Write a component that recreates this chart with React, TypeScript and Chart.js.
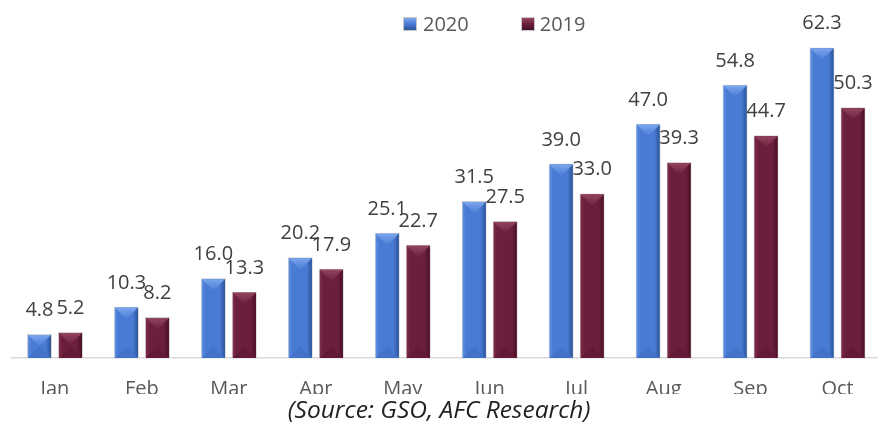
import React, { useEffect, useRef } from 'react';
import { Chart, registerables } from 'chart.js';

Chart.register(...registerables);

const months = ['Jan', 'Feb', 'Mar', 'Apr', 'May', 'Jun', 'Jul', 'Aug', 'Sep', 'Oct'];
const seriesNames = ['2020', '2019'];
const values2020 = [4.8, 10.3, 16.0, 20.2, 25.1, 31.5, 39.0, 47.0, 54.8, 62.3];
const values2019 = [5.2, 8.2, 13.3, 17.9, 22.7, 27.5, 33.0, 39.3, 44.7, 50.3];
const sourceText = '(Source: GSO, AFC Research)';

const palettes = [
  { base: '#4a7bd4', left: '#6090e2', right: '#2b5498', top: '#7ba6ee', bottom: '#4373c9' },
  { base: '#6c1f3d', left: '#7e2c4d', right: '#4a1028', top: '#93445f', bottom: '#631a37' },
];

const FONT = '"Open Sans", "DejaVu Sans", sans-serif';

const bevelPlugin = {
  id: 'bevelAndLabels',
  afterDatasetsDraw(chart: any) {
    const ctx = chart.ctx as CanvasRenderingContext2D;
    ctx.save();
    chart.data.datasets.forEach((ds: any, i: number) => {
      const meta = chart.getDatasetMeta(i);
      const pal = palettes[i];
      meta.data.forEach((bar: any, j: number) => {
        const { x, y, base, width } = bar.getProps(['x', 'y', 'base', 'width'], true);
        const l = x - width / 2 + 1;
        const r = x + width / 2 - 1;
        const t = y + 1;
        const b = base;
        const w = r - l;
        const h = b - t;
        if (h <= 0) return;
        const g = ctx.createLinearGradient(l, 0, r, 0);
        g.addColorStop(0, pal.left);
        g.addColorStop(0.14, pal.base);
        g.addColorStop(0.78, pal.base);
        g.addColorStop(1, pal.right);
        ctx.fillStyle = g;
        ctx.fillRect(l, t, w, h);
        const d = Math.min(w / 2, h / 2);
        // top bevel
        const tg = ctx.createLinearGradient(0, t, 0, t + d);
        tg.addColorStop(0, pal.top);
        tg.addColorStop(1, pal.base);
        ctx.beginPath();
        ctx.moveTo(l, t);
        ctx.lineTo(r, t);
        ctx.lineTo(x, t + d);
        ctx.closePath();
        ctx.fillStyle = tg;
        ctx.fill();
        // bottom bevel
        ctx.beginPath();
        ctx.moveTo(l, b);
        ctx.lineTo(r, b);
        ctx.lineTo(x, b - d);
        ctx.closePath();
        ctx.fillStyle = pal.bottom;
        ctx.fill();
        // value label
        const v = ds.data[j] as number;
        ctx.fillStyle = '#404040';
        ctx.font = `20px ${FONT}`;
        ctx.textAlign = 'center';
        ctx.textBaseline = 'alphabetic';
        ctx.fillText(v.toFixed(1), x, y - 18);
      });
    });
    ctx.restore();
  },
};

function LegendBox({ pal }: { pal: any }) {
  return (
    <span
      style={{
        display: 'inline-block',
        width: 14,
        height: 14,
        verticalAlign: 'baseline',
        boxSizing: 'border-box',
        border: '1px solid #c8c8c8',
        background: `linear-gradient(to bottom, ${pal.top} 0%, ${pal.base} 50%, ${pal.right} 100%)`,
      }}
    />
  );
}

export default function App() {
  const canvasRef = useRef<HTMLCanvasElement | null>(null);

  useEffect(() => {
    document.body.style.margin = '0';
    const canvas = canvasRef.current;
    if (!canvas) return;
    const chart = new Chart(canvas, {
      type: 'bar',
      data: {
        labels: months,
        datasets: [
          {
            label: seriesNames[0],
            data: values2020,
            backgroundColor: palettes[0].base,
            borderColor: 'rgba(205,205,205,0.9)',
            borderWidth: 1,
            barPercentage: 0.806,
            categoryPercentage: 0.713,
          },
          {
            label: seriesNames[1],
            data: values2019,
            backgroundColor: palettes[1].base,
            borderColor: 'rgba(205,205,205,0.9)',
            borderWidth: 1,
            barPercentage: 0.806,
            categoryPercentage: 0.713,
          },
        ],
      },
      options: {
        responsive: false,
        animation: false,
        layout: { padding: { left: 11.5, right: 3, top: 9, bottom: 4 } },
        plugins: { legend: { display: false }, tooltip: { enabled: false } },
        scales: {
          x: {
            grid: { display: false, drawTicks: false },
            border: { display: true, color: '#d9d9d9', width: 1.5 },
            ticks: {
              color: '#595959',
              font: { family: FONT, size: 20 },
              padding: 19,
              maxRotation: 0,
              autoSkip: false,
            },
          },
          y: { display: false, min: 0, max: 70 },
        },
      },
      plugins: [bevelPlugin],
    });
    return () => chart.destroy();
  }, []);

  return (
    <div
      style={{
        position: 'absolute',
        left: 0,
        top: 0,
        width: 878,
        height: 424,
        overflow: 'hidden',
        background: '#ffffff',
      }}
    >
      <canvas ref={canvasRef} width={884} height={424} style={{ position: 'absolute', left: 0, top: 0 }} />
      <div
        style={{
          position: 'absolute',
          left: 403,
          top: 12,
          height: 24,
          lineHeight: '24px',
          fontFamily: FONT,
          fontSize: 20,
          color: '#595959',
          whiteSpace: 'nowrap',
        }}
      >
        <LegendBox pal={palettes[0]} />
        <span style={{ marginLeft: 6 }}>{seriesNames[0]}</span>
        <span style={{ marginLeft: 52 }}>
          <LegendBox pal={palettes[1]} />
        </span>
        <span style={{ marginLeft: 5 }}>{seriesNames[1]}</span>
      </div>
      <div
        style={{
          position: 'absolute',
          left: 0,
          top: 394,
          width: 878,
          height: 30,
          lineHeight: '29px',
          background: '#ffffff',
          textAlign: 'center',
          fontFamily: FONT,
          fontStyle: 'italic',
          fontSize: 24.5,
          color: '#222222',
          whiteSpace: 'nowrap',
        }}
      >
        {sourceText}
      </div>
    </div>
  );
}
